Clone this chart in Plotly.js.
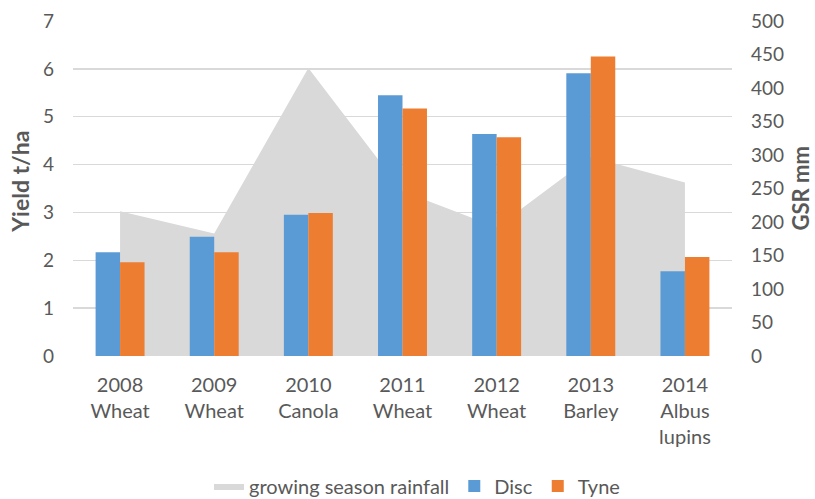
<!DOCTYPE html>
<html>
<head>
<meta charset="utf-8">
<script src="https://cdn.plot.ly/plotly-3.0.1.min.js"></script>
<style>html,body{margin:0;padding:0;background:#fff;}#chart{width:815px;height:499px;}</style>
</head>
<body>
<div id="chart"></div>
<script>
const categories = ["2008<br>Wheat", "2009<br>Wheat", "2010<br>Canola", "2011<br>Wheat", "2012<br>Wheat", "2013<br>Barley", "2014<br>Albus<br>lupins"];
const gsr = [216, 183, 430, 246, 192, 297, 259];
const disc = [2.17, 2.49, 2.95, 5.45, 4.64, 5.91, 1.77];
const tyne = [1.96, 2.17, 2.99, 5.17, 4.57, 6.26, 2.07];
const yieldTicks = [0, 1, 2, 3, 4, 5, 6, 7];
const gsrTicks = [0, 50, 100, 150, 200, 250, 300, 350, 400, 450, 500];
const leftTitle = "Yield t/ha";
const rightTitle = "GSR mm";

const font = "Lato, 'Open Sans', sans-serif";
const grey = "#595959";

const traces = [
  {
    type: "scatter", mode: "lines", name: "growing season rainfall",
    x: categories, y: gsr, xaxis: "x", yaxis: "y",
    fill: "tozeroy", fillcolor: "#d9d9d9", line: {width: 0, color: "#d9d9d9"},
    hoverinfo: "y"
  },
  {
    type: "bar", name: "Disc", x: categories, y: disc, xaxis: "x", yaxis: "y2",
    marker: {color: "#5b9bd5"}
  },
  {
    type: "bar", name: "Tyne", x: categories, y: tyne, xaxis: "x", yaxis: "y2",
    marker: {color: "#ed7d31"}
  }
];

const layout = {
  width: 815, height: 499,
  margin: {l: 73, r: 83, t: 21, b: 143, autoexpand: false},
  paper_bgcolor: "#fff", plot_bgcolor: "rgba(0,0,0,0)",
  font: {family: font, size: 20, color: grey},
  showlegend: true,
  barmode: "group", bargap: 0.48, bargroupgap: 0,
  xaxis: {
    type: "category", showgrid: false, showline: false, zeroline: false, automargin: false,
    ticks: "", tickfont: {family: font, size: 20, color: grey},
    ticklabelstandoff: 15
  },
  yaxis: {
    side: "right", range: [0, 500], tickvals: gsrTicks, ticktext: gsrTicks.map(String),
    showgrid: false, zeroline: false, showline: false, ticks: "", automargin: false,
    tickfont: {family: font, size: 19, color: grey}, ticklabelstandoff: 18
  },
  yaxis2: {
    overlaying: "y", side: "left", range: [0, 7], tickvals: yieldTicks, automargin: false,
    showgrid: true, gridcolor: "#d9d9d9", gridwidth: 1.3, zeroline: false, showline: false, ticks: "",
    tickfont: {family: font, size: 19, color: grey}, ticklabelstandoff: 18
  },
  annotations: [
    {text: "<b>" + leftTitle + "</b>", xref: "paper", yref: "paper", x: -0.0804, y: 0.52,
     xanchor: "center", yanchor: "middle", textangle: -90, showarrow: false,
     font: {family: font, size: 23, color: grey}},
    {text: "<b>" + rightTitle + "</b>", xref: "paper", yref: "paper", x: 1.1047, y: 0.5,
     xanchor: "center", yanchor: "middle", textangle: -90, showarrow: false,
     font: {family: font, size: 22, color: grey}}
  ],
  legend: {
    orientation: "h", x: 0.522, xanchor: "center", y: -0.388, yanchor: "middle",
    font: {family: font, size: 20, color: grey}, traceorder: "normal",
    itemwidth: 30, bgcolor: "rgba(0,0,0,0)"
  }
};

Plotly.newPlot("chart", traces, layout, {displayModeBar: false, staticPlot: true});
</script>
</body>
</html>
